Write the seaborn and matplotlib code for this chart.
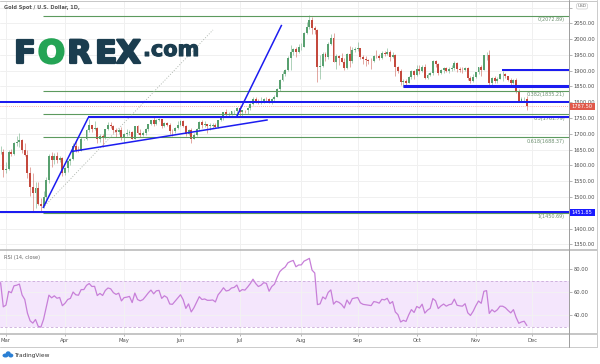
import numpy as np
import pandas as pd
import matplotlib
matplotlib.use("Agg")
import matplotlib.pyplot as plt
import matplotlib.transforms as mtransforms
import matplotlib.patheffects as pe
from matplotlib.patches import Rectangle, FancyBboxPatch, Ellipse
import seaborn as sns

# ---------------- data (XAU/USD daily, 27 Feb - 27 Nov 2020) ----------------
opens = [1641, 1643,
         1585, 1590, 1641, 1637, 1671, 1674, 1680, 1649, 1634, 1576, 1530, 1514, 1527, 1477, 1470, 1499, 1553, 1631, 1616, 1630, 1617, 1622,
         1577, 1591, 1613, 1620, 1661, 1648, 1646, 1683, 1683, 1713, 1727, 1716, 1717, 1682, 1694, 1686, 1714, 1729, 1726, 1713, 1707, 1713,
         1686, 1700, 1702, 1705, 1685, 1725, 1702, 1697, 1702, 1715, 1730, 1743, 1732, 1745, 1747, 1724, 1734, 1729, 1709, 1708, 1718,
         1728, 1739, 1726, 1699, 1713, 1684, 1697, 1716, 1737, 1728, 1730, 1726, 1726, 1727, 1722, 1743, 1754, 1768, 1761, 1763, 1771, 1773,
         1781, 1769, 1775, 1774, 1783, 1794, 1810, 1803, 1798, 1802, 1810, 1809, 1797, 1810, 1817, 1842, 1871, 1888, 1902, 1941, 1958, 1970, 1958,
         1975, 1976, 2018, 2037, 2062, 2035, 2028, 1911, 1915, 1954, 1944, 1985, 2003, 1928, 1946, 1940, 1928, 1907, 1953, 1929, 1964,
         1968, 1971, 1944, 1936, 1934, 1932, 1930, 1947, 1945, 1941, 1956, 1954, 1960, 1943, 1950, 1912, 1900, 1863, 1868, 1862, 1881, 1898,
         1886, 1906, 1900, 1913, 1877, 1887, 1893, 1930, 1922, 1891, 1901, 1908, 1900, 1905, 1907, 1924, 1904, 1902, 1901, 1908, 1878, 1868,
         1879, 1895, 1910, 1903, 1948, 1951, 1862, 1877, 1866, 1874, 1888, 1888, 1882, 1871, 1861, 1871, 1837, 1805, 1809, 1811]
highs = [1660, 1651,
         1610, 1649, 1652, 1673, 1692, 1703, 1683, 1671, 1650, 1596, 1575, 1548, 1548, 1498, 1520, 1564, 1636, 1642, 1639, 1641, 1631, 1625,
         1594, 1618, 1624, 1671, 1677, 1660, 1689, 1685, 1715, 1747, 1729, 1739, 1720, 1700, 1698, 1716, 1738, 1738, 1728, 1718, 1718, 1722,
         1703, 1716, 1711, 1708, 1726, 1729, 1716, 1708, 1717, 1732, 1745, 1755, 1748, 1751, 1748, 1737, 1737, 1735, 1716, 1721, 1740,
         1745, 1745, 1728, 1716, 1718, 1703, 1719, 1739, 1745, 1741, 1732, 1735, 1733, 1733, 1745, 1756, 1769, 1779, 1768, 1773, 1775, 1785,
         1789, 1775, 1776, 1786, 1797, 1818, 1817, 1809, 1818, 1812, 1815, 1812, 1813, 1822, 1844, 1875, 1898, 1905, 1945, 1981, 1971, 1975, 1984,
         1987, 2023, 2055, 2075, 2069, 2040, 2031, 1949, 1958, 1960, 1990, 2015, 2020, 1953, 1949, 1956, 1940, 1956, 1977, 1974, 1976,
         1992, 1973, 1951, 1946, 1936, 1939, 1951, 1966, 1952, 1961, 1963, 1973, 1965, 1959, 1954, 1915, 1905, 1875, 1874, 1883, 1901, 1901,
         1917, 1918, 1919, 1920, 1892, 1897, 1933, 1934, 1925, 1906, 1912, 1912, 1912, 1917, 1932, 1928, 1913, 1912, 1913, 1910, 1884, 1888,
         1897, 1911, 1919, 1950, 1960, 1966, 1880, 1883, 1880, 1892, 1898, 1893, 1884, 1877, 1875, 1876, 1842, 1815, 1815, 1819]
lows = [1636, 1563,
        1575, 1586, 1631, 1634, 1662, 1657, 1640, 1631, 1561, 1504, 1452, 1466, 1473, 1451, 1464, 1482, 1545, 1596, 1605, 1609, 1612, 1567,
        1568, 1580, 1602, 1616, 1642, 1641, 1644, 1680, 1680, 1705, 1706, 1712, 1671, 1673, 1659, 1683, 1713, 1719, 1702, 1691, 1700, 1681,
        1670, 1693, 1697, 1682, 1683, 1698, 1691, 1694, 1695, 1710, 1727, 1726, 1727, 1740, 1717, 1723, 1726, 1700, 1693, 1703, 1716,
        1726, 1720, 1692, 1696, 1671, 1683, 1693, 1710, 1718, 1722, 1704, 1712, 1718, 1717, 1718, 1741, 1743, 1757, 1753, 1758, 1762, 1765,
        1757, 1756, 1765, 1763, 1774, 1792, 1799, 1794, 1795, 1796, 1803, 1796, 1795, 1805, 1815, 1835, 1867, 1882, 1900, 1902, 1948, 1943, 1955,
        1964, 1974, 2015, 2032, 2015, 2016, 1863, 1875, 1911, 1932, 1937, 1982, 1927, 1905, 1917, 1928, 1901, 1904, 1912, 1923, 1958,
        1961, 1937, 1920, 1916, 1922, 1906, 1926, 1941, 1933, 1938, 1947, 1948, 1932, 1940, 1882, 1892, 1855, 1849, 1851, 1860, 1874, 1873,
        1883, 1889, 1896, 1875, 1874, 1882, 1887, 1911, 1886, 1888, 1893, 1895, 1891, 1899, 1902, 1895, 1896, 1891, 1899, 1869, 1860, 1865,
        1876, 1888, 1883, 1902, 1935, 1850, 1850, 1860, 1861, 1872, 1868, 1877, 1866, 1855, 1858, 1830, 1800, 1804, 1805, 1775]
closes = [1643, 1585,
          1590, 1641, 1637, 1671, 1674, 1680, 1649, 1634, 1576, 1530, 1514, 1527, 1477, 1470, 1499, 1553, 1631, 1616, 1630, 1617, 1622, 1577,
          1591, 1613, 1620, 1661, 1648, 1646, 1683, 1683, 1713, 1727, 1716, 1717, 1682, 1694, 1686, 1714, 1729, 1726, 1713, 1707, 1713, 1686,
          1700, 1702, 1705, 1685, 1725, 1702, 1697, 1702, 1715, 1730, 1743, 1732, 1745, 1747, 1724, 1734, 1729, 1709, 1708, 1718, 1728,
          1739, 1726, 1699, 1713, 1684, 1697, 1716, 1737, 1728, 1730, 1726, 1726, 1727, 1722, 1743, 1754, 1768, 1761, 1763, 1771, 1773, 1781,
          1769, 1775, 1774, 1783, 1794, 1810, 1803, 1798, 1802, 1810, 1809, 1797, 1810, 1817, 1842, 1871, 1888, 1902, 1941, 1958, 1970, 1958, 1975,
          1976, 2018, 2037, 2062, 2035, 2028, 1911, 1915, 1954, 1944, 1985, 2003, 1928, 1946, 1940, 1928, 1907, 1953, 1929, 1964, 1968,
          1971, 1944, 1936, 1934, 1932, 1930, 1947, 1945, 1941, 1956, 1954, 1960, 1943, 1950, 1912, 1900, 1863, 1868, 1862, 1881, 1898, 1886,
          1906, 1900, 1913, 1877, 1887, 1893, 1930, 1922, 1891, 1901, 1908, 1900, 1905, 1907, 1924, 1904, 1902, 1901, 1908, 1878, 1868, 1879,
          1895, 1910, 1903, 1948, 1951, 1862, 1877, 1866, 1874, 1888, 1888, 1882, 1871, 1861, 1871, 1837, 1805, 1809, 1811, 1787.5]
# closes before the visible window (for RSI warm-up)
rsi_warmup_closes = [1558, 1563, 1571, 1581, 1567, 1576, 1576, 1589, 1576, 1553, 1556, 1566, 1570,
                     1572, 1567, 1566, 1576, 1584, 1581, 1601, 1611, 1620, 1643, 1658, 1635, 1642]

first_date, last_date, axis_end_date = "2020-02-27", "2020-11-27", "2020-12-01"
month_labels = ["Mar", "Apr", "May", "Jun", "Jul", "Aug", "Sep", "Oct", "Nov", "Dec"]

price_ticks = list(range(1350, 2101, 50))
hidden_price_labels = [2100, 1450]   # covered by the USD badge / price box in the original
rsi_ticks = [40, 60, 80]
rsi_band = [30, 70]

# drawings (bar index, price)
fib_levels = [2072.89, 1835.21, 1761.79, 1688.37, 1450.69]
fib_labels = ["0(2072.89)", "0.382(1835.21)", "0.5(1761.79)", "0.618(1688.37)", "1(1450.69)"]
fib_start = 15.8
full_hlines = [1800.0, 1451.85]
partial_hlines = [(32.7, 1752.0, 1.45), (149.8, 1850.0, 2.2), (186.8, 1901.0, 1.45)]
trend_lines = [((15.8, 1465), (32.7, 1752)),
               ((26.5, 1644), (99.5, 1744)),
               ((87.9, 1754), (104.7, 2045))]
dotted_line = ((15.8, 1466), (79.1, 2029))
last_price_label = "1787.50"
low_label = "1451.85"

# ---------------- styling ----------------
sns.set_theme(style="white")
plt.rcParams["font.family"] = ["DejaVu Sans"]

GREEN = "#58a06f"
RED = "#c4493d"
BLUE = "#1c1cf0"
FIBC = "#5c9a5e"
AXC = "#4d4d4d"

W, H = 600, 364
fig = plt.figure(figsize=(6, 3.64), dpi=100)
fig.patch.set_facecolor("white")


def rect(x0, y0, x1, y1):
    return [x0 / W, 1 - y1 / H, (x1 - x0) / W, (y1 - y0) / H]


ax = fig.add_axes(rect(0, 1, 569, 249))
ax2 = fig.add_axes(rect(0, 249, 569, 334))

dates = pd.bdate_range(first_date, last_date)
idx = np.arange(len(dates))
full_dates = pd.bdate_range(first_date, axis_end_date)
month_pos = [i for i in range(1, len(full_dates)) if full_dates[i].month != full_dates[i - 1].month]

XL = (-0.223, 211.7)
for a in (ax, ax2):
    a.set_xlim(*XL)
    for s in a.spines.values():
        s.set_visible(False)
    a.set_facecolor("white")

ax.set_ylim(1335.1, 2120.6)
ax2.set_ylim(23.74, 97.65)

# grid
ax.set_xticks(month_pos)
ax.set_yticks(price_ticks)
ax.grid(True, color="#f0f0f0", lw=0.7)
ax.set_axisbelow(True)
ax.yaxis.tick_right()
ax.set_yticklabels(["" if v in hidden_price_labels else f"{v:.2f}" for v in price_ticks])
ax.tick_params(axis="y", labelsize=3.7, labelcolor=AXC, color="#999999", length=2, width=0.5, pad=1.2, right=True, left=False)
ax.tick_params(axis="x", length=0, labelbottom=False)

ax2.set_xticks(month_pos)
ax2.set_xticklabels(month_labels)
ax2.set_yticks(rsi_ticks)
ax2.grid(True, color="#f2f2f2", lw=0.7)
ax2.set_axisbelow(True)
ax2.yaxis.tick_right()
ax2.set_yticklabels([f"{v:.2f}" for v in rsi_ticks])
ax2.tick_params(axis="y", labelsize=3.7, labelcolor=AXC, color="#999999", length=2, width=0.5, pad=1.2, right=True, left=False)
ax2.tick_params(axis="x", labelsize=3.8, labelcolor="#555555", color="#999999", length=1.5, width=0.5, pad=1.5, bottom=True)

# candles
o = np.array(opens, float); h = np.array(highs, float)
l = np.array(lows, float); c = np.array(closes, float)
cols = np.where(c >= o, GREEN, RED)
ax.vlines(idx, l, h, colors=cols, lw=0.45, alpha=0.75, zorder=3)
ax.bar(idx, np.maximum(np.abs(c - o), 1.2), bottom=np.minimum(o, c), width=0.72, color=cols, lw=0, zorder=4)

# current price dotted line
ax.axhline(c[-1], color="#f09a92", lw=0.6, ls=(0, (1, 1.5)), zorder=2)

# fib retracement
ax.hlines(fib_levels, fib_start, XL[1], colors=FIBC, lw=0.8, zorder=5)
for lv, lab in zip(fib_levels, fib_labels):
    ax.annotate(lab, xy=(210.2, lv), xytext=(0, -0.9), textcoords="offset points",
                ha="right", va="top", fontsize=3.5, color="#6d8f70", zorder=6)

# blue drawings
ax.hlines(full_hlines, XL[0], XL[1], colors=BLUE, lw=1.45, zorder=7)
for x0, y0, lw in partial_hlines:
    ax.hlines(y0, x0, XL[1], colors=BLUE, lw=lw, zorder=7)
for (x0, y0), (x1, y1) in trend_lines:
    ax.plot([x0, x1], [y0, y1], color=BLUE, lw=1.1, zorder=7, solid_capstyle="butt")
(dx0, dy0), (dx1, dy1) = dotted_line
ax.plot([dx0, dx1], [dy0, dy1], color="#a8b0a8", lw=0.6, ls=(0, (1.2, 2.0)), zorder=6)

# price label boxes on the right axis
tr = mtransforms.blended_transform_factory(ax.transAxes, ax.transData)
bw = 26 / 569
bh = 7 / 0.3157
for val, txt, fc in [(c[-1], last_price_label, "#e0584a"), (full_hlines[1], low_label, "#1a1aff")]:
    ax.add_patch(Rectangle((1.0, val - bh / 2), bw, bh, transform=tr, clip_on=False,
                           facecolor=fc, edgecolor="none", zorder=20))
    ax.text(1.0 + bw / 2, val, txt, transform=tr, ha="center", va="center",
            fontsize=3.7, color="white", zorder=21, clip_on=False)

# RSI (Wilder, 14, close)
allc = np.array(rsi_warmup_closes + closes, float)
diff = np.diff(allc)
g = np.where(diff > 0, diff, 0.0)
ls_ = np.where(diff < 0, -diff, 0.0)
n = 14
ag, al = g[:n].mean(), ls_[:n].mean()
rsi_all = np.full(len(allc), np.nan)
rsi_all[n] = 100 - 100 / (1 + ag / al)
for k in range(n, len(diff)):
    ag = (ag * (n - 1) + g[k]) / n
    al = (al * (n - 1) + ls_[k]) / n
    rsi_all[k + 1] = 100 - 100 / (1 + ag / al) if al > 0 else 100.0
rsi = rsi_all[len(rsi_warmup_closes):]

ax2.axhspan(rsi_band[0], rsi_band[1], color="#f4e6fc", lw=0, zorder=0.5)
for v in rsi_band:
    ax2.axhline(v, color="#c9a9d9", lw=0.6, ls=(0, (3, 2.5)), zorder=1)
sns.lineplot(x=idx, y=rsi, ax=ax2, color="#c77fd8", lw=0.9, zorder=3)
ax2.set_xlabel(""); ax2.set_ylabel("")

# ---------------- overlay: frames, titles, logos ----------------
ov = fig.add_axes([0, 0, 1, 1], zorder=30)
ov.set_xlim(0, W); ov.set_ylim(H, 0); ov.axis("off"); ov.patch.set_alpha(0)
px = 0.72
ov.plot([0, 597], [0.6, 0.6], color="#c8c8c8", lw=1 * px)
ov.plot([0, 597], [249.5, 249.5], color="#b8b8b8", lw=1.6 * px)
ov.plot([0, 597], [334, 334], color="#b8b8b8", lw=1.6 * px)
ov.plot([0, 597], [347, 347], color="#cccccc", lw=1 * px)
ov.plot([569, 569], [0, 347], color="#a0a0a0", lw=1 * px)
ov.plot([597, 597], [0, 347], color="#cccccc", lw=1 * px)

ov.text(4, 7, "Gold Spot / U.S. Dollar, 1D,", fontsize=3.6, color="#555555", fontweight="bold", va="center", ha="left")
ov.text(4, 257, "RSI (14, close)", fontsize=3.6, color="#666666", va="center", ha="left")

# USD badge
ov.add_patch(FancyBboxPatch((576.5, 3.6), 11, 5.4, boxstyle="round,pad=0,rounding_size=1.5",
                            facecolor="white", edgecolor="#bdbdbd", lw=0.4))
ov.text(582, 6.4, "USD", fontsize=3.1, color="#666666", ha="center", va="center")

# FOREX.com logo
NAVY = "#1b3d4f"
LOGO_GREEN = "#24a455"
for ch, xc, colr in [("F", 25, NAVY), ("O", 51.5, LOGO_GREEN), ("R", 79.5, NAVY), ("E", 106, NAVY), ("X", 128.5, NAVY)]:
    ov.text(xc, 63, ch, fontsize=23, fontweight="bold", color=colr, ha="center", va="baseline",
            path_effects=[pe.withStroke(linewidth=1.6, foreground=colr)])
ov.text(143, 56, ".com", fontsize=15, fontweight="bold", color=NAVY, ha="left", va="baseline",
        path_effects=[pe.withStroke(linewidth=0.8, foreground=NAVY)])

# TradingView footer (small cloud mark built from ellipses)
CLOUD = "#2a7fd4"
for (ex, ey, ew, eh) in [(5.5, 355.5, 6, 4), (8.2, 353.6, 5, 4.6), (10.8, 355.5, 5, 4)]:
    ov.add_patch(Ellipse((ex, ey), ew, eh, facecolor=CLOUD, edgecolor="none"))
ov.text(14, 355, "TradingView", fontsize=4.2, color="#333333", ha="left", va="center")

fig.savefig("out.png", dpi=100, facecolor="white")
